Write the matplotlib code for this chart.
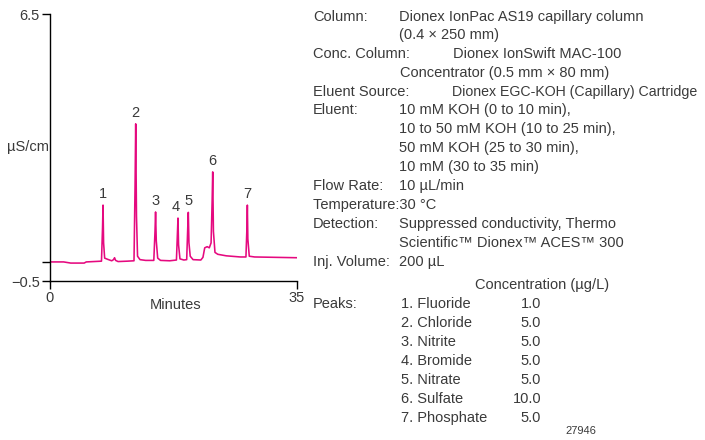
import matplotlib
matplotlib.use("Agg")
import matplotlib.pyplot as plt

plt.rcParams['font.family'] = ['Liberation Sans', 'DejaVu Sans']

# chromatogram trace (minutes, uS/cm)
trace_t = [0.0, 2.0, 3.0, 4.9, 5.2, 7.35, 7.5, 7.57, 7.65, 7.8, 8.2, 8.8, 9.05, 9.2, 9.35, 9.7,
           11.0, 11.95, 12.1, 12.19, 12.3, 12.45, 12.8, 13.6, 14.75, 14.92, 15.0, 15.1, 15.3, 15.7,
           17.0, 17.95, 18.1, 18.17, 18.25, 18.45, 19.0, 19.4, 19.55, 19.63, 19.72, 19.9, 20.3,
           21.4, 21.7, 21.95, 22.3, 22.6, 22.85, 23.0, 23.08, 23.18, 23.4, 23.8, 25.0, 27.0,
           27.78, 27.92, 27.98, 28.05, 28.25, 29.0, 32.0, 35.0]
trace_v = [0.0, 0.0, -0.03, -0.03, 0.0, 0.02, 0.9, 1.49, 0.5, 0.1, 0.07, 0.03, 0.06, 0.11, 0.04, 0.01,
           0.02, 0.03, 2.0, 3.62, 1.2, 0.15, 0.06, 0.04, 0.04, 0.8, 1.31, 0.55, 0.1, 0.04,
           0.03, 0.05, 0.8, 1.15, 0.45, 0.08, 0.05, 0.06, 0.9, 1.30, 0.5, 0.15, 0.06,
           0.05, 0.12, 0.37, 0.40, 0.37, 0.5, 1.6, 2.36, 0.8, 0.25, 0.2, 0.16, 0.13,
           0.13, 0.9, 1.49, 0.6, 0.15, 0.13, 0.12, 0.11]

# peak numbers drawn above each peak
peak_t = [7.57, 12.19, 15.0, 18.17, 19.63, 23.08, 27.98]
peak_h = [1.49, 3.62, 1.31, 1.15, 1.30, 2.36, 1.49]
peak_dx = [0, 0, 0, -2, 0, 0, 0]

# peak table
peak_names = ['1. Fluoride', '2. Chloride', '3. Nitrite', '4. Bromide',
              '5. Nitrate', '6. Sulfate', '7. Phosphate']
peak_conc = ['1.0', '5.0', '5.0', '5.0', '5.0', '10.0', '5.0']

W, H = 705, 440
fig = plt.figure(figsize=(W / 100, H / 100), dpi=100)
ax = fig.add_axes([49.5 / W, 1 - 281 / H, 247.5 / W, 267 / H])

pink = '#e5097f'
txt = '#3a3a3a'
fs = 10.5

ax.plot(trace_t, trace_v, color=pink, lw=1.15, solid_joinstyle='round')
for i, (t, h) in enumerate(zip(peak_t, peak_h)):
    ax.annotate(str(i + 1), (t, h), xytext=(peak_dx[i], 3), textcoords='offset points',
                ha='center', va='bottom', fontsize=fs, color=txt)

ax.set_xlim(0, 35)
ax.set_ylim(-0.5, 6.5)
ax.set_xticks([0, 35])
ax.set_xticklabels(['0', '35'])
ax.set_yticks([-0.5, 0, 6.5])
ax.set_yticklabels(['\u22120.5', '', '6.5'])
ax.tick_params(length=5.5, width=1, pad=1.5, labelsize=fs, labelcolor=txt)
for s in ['top', 'right']:
    ax.spines[s].set_visible(False)
for s in ['left', 'bottom']:
    ax.spines[s].set_linewidth(1)
ax.patch.set_alpha(0)


def put(x, y, s, **kw):
    kw.setdefault('fontsize', fs)
    fig.text(x / W, 1 - y / H, s, va='center', color=txt, **kw)


put(7, 147, 'µS/cm')
put(176, 305, 'Minutes', ha='center')

rows = [
    (313, 17, 'Column:'), (399, 17, 'Dionex IonPac AS19 capillary column'),
    (399, 35, '(0.4 × 250 mm)'),
    (313, 54, 'Conc. Column:'), (453, 54, 'Dionex IonSwift MAC-100'),
    (400, 73, 'Concentrator (0.5 mm × 80 mm)'),
    (313, 92, 'Eluent Source:'),
    (313, 110, 'Eluent:'), (399, 110, '10 mM KOH (0 to 10 min),'),
    (399, 129, '10 to 50 mM KOH (10 to 25 min),'),
    (399, 148, '50 mM KOH (25 to 30 min),'),
    (399, 167, '10 mM (30 to 35 min)'),
    (313, 186, 'Flow Rate:'), (399, 186, '10 µL/min'),
    (313, 205, 'Temperature:30 °C'),
    (313, 224, 'Detection:'), (399, 224, 'Suppressed conductivity, Thermo'),
    (399, 243, 'Scientific™ Dionex™ ACES™ 300'),
    (313, 262, 'Inj. Volume:'), (399, 262, '200 µL'),
]
for x, y, s in rows:
    put(x, y, s)
# longest line, set a touch smaller so it stays inside the figure
put(452, 92, 'Dionex EGC-KOH (Capillary) Cartridge', fontsize=10.2)

put(475, 285, 'Concentration (µg/L)')
put(313, 304, 'Peaks:')
for i, (name, c) in enumerate(zip(peak_names, peak_conc)):
    y = 304 + i * 19
    put(401, y, name)
    put(541, y, c, ha='right')
put(565, 431, '27946', fontsize=8)

fig.savefig('out.png', dpi=100)
